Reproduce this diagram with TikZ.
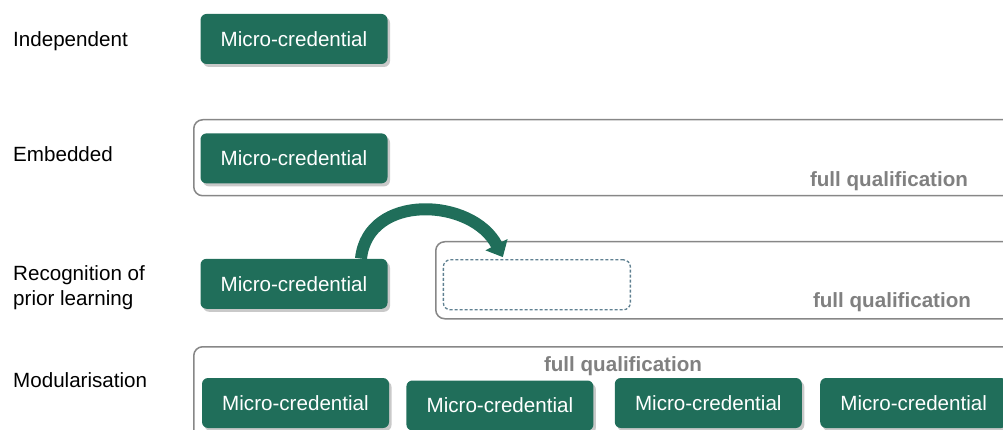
\documentclass[tikz,border=0pt]{standalone}
\usepackage{fontspec}
\setmainfont{Liberation Sans}
\usetikzlibrary{positioning,shadows,arrows.meta}
\definecolor{mcgreen}{RGB}{32,110,90}
\definecolor{framegray}{RGB}{135,135,135}
\definecolor{fqgray}{RGB}{128,128,128}
\definecolor{dashblue}{RGB}{95,128,145}
\tikzset{x=1pt, y=-1pt,
  mc/.style={fill=mcgreen, text=white, rounded corners=6pt,
    minimum width=187pt, minimum height=50pt, inner sep=0pt,
    font=\fontsize{20.6}{25}\selectfont,
    drop shadow={shadow xshift=2.5pt, shadow yshift=-3pt, opacity=0.3, fill=black!70}},
  qualframe/.style={draw=framegray, line width=1.5pt, rounded corners=9pt,
    anchor=north west, inner sep=0pt},
  holder/.style={draw=dashblue, fill=white, line width=1.3pt, dash pattern=on 3pt off 2pt,
    rounded corners=7pt, minimum width=187pt, minimum height=50pt},
  rowlabel/.style={font=\fontsize{20.6}{25}\selectfont, align=left, inner sep=0pt},
  fqlabel/.style={font=\bfseries\fontsize{20.6}{25}\selectfont, text=fqgray, inner sep=0pt, anchor=base}}

\begin{document}
\begin{tikzpicture}
  \useasboundingbox (0,0) rectangle (1003,430);
  \clip (0,0) rectangle (1003,430);

  % frames of the full qualifications
  \node[qualframe, minimum width=830pt, minimum height=76pt] (fr2) at (193,119) {};
  \node[qualframe, minimum width=590pt, minimum height=77pt] (fr3) at (435,241) {};
  \node[qualframe, minimum width=830pt, minimum height=100pt] (fr4) at (193,346) {};

  \node[fqlabel] (fq2) at (889,187) {full qualification};
  \node[fqlabel] (fq3) at (892,307) {full qualification};
  \node[fqlabel] (fq4) at (623,371) {full qualification};

  % row labels
  \node[rowlabel, anchor=base west] (indep) at (13,47) {Independent};
  \node[rowlabel, anchor=base west] (embed) at (13,162) {Embedded};
  \node[rowlabel, anchor=west] (recog) at (13,288) {Recognition of\\prior learning};
  \node[rowlabel, anchor=base west] (modul) at (13,387) {Modularisation};

  % micro-credentials
  \node[mc] (mc1) at (294,39) {Micro-credential};
  \node[mc] (mc2) [below=69pt of mc1] {Micro-credential};
  \node[mc] (mc3) [below=75pt of mc2] {Micro-credential};
  \node[holder] (ph) [right=55pt of mc3, yshift=-1pt] {};

  \node[mc] (mc4a) at (295.5,403) {Micro-credential};
  \node[mc] (mc4b) [right=17pt of mc4a, yshift=-2.5pt] {Micro-credential};
  \node[mc] (mc4c) [right=21pt of mc4b, yshift=2.5pt] {Micro-credential};
  \node[mc] (mc4d) [right=18pt of mc4c] {Micro-credential};

  \draw[mcgreen, line width=12pt, -{Triangle[width=24pt,length=14pt]}]
    ([xshift=67pt]mc3.north) to[out=84, in=117, looseness=1.2] ([xshift=-34pt,yshift=2pt]ph.north);
\end{tikzpicture}
\end{document}
